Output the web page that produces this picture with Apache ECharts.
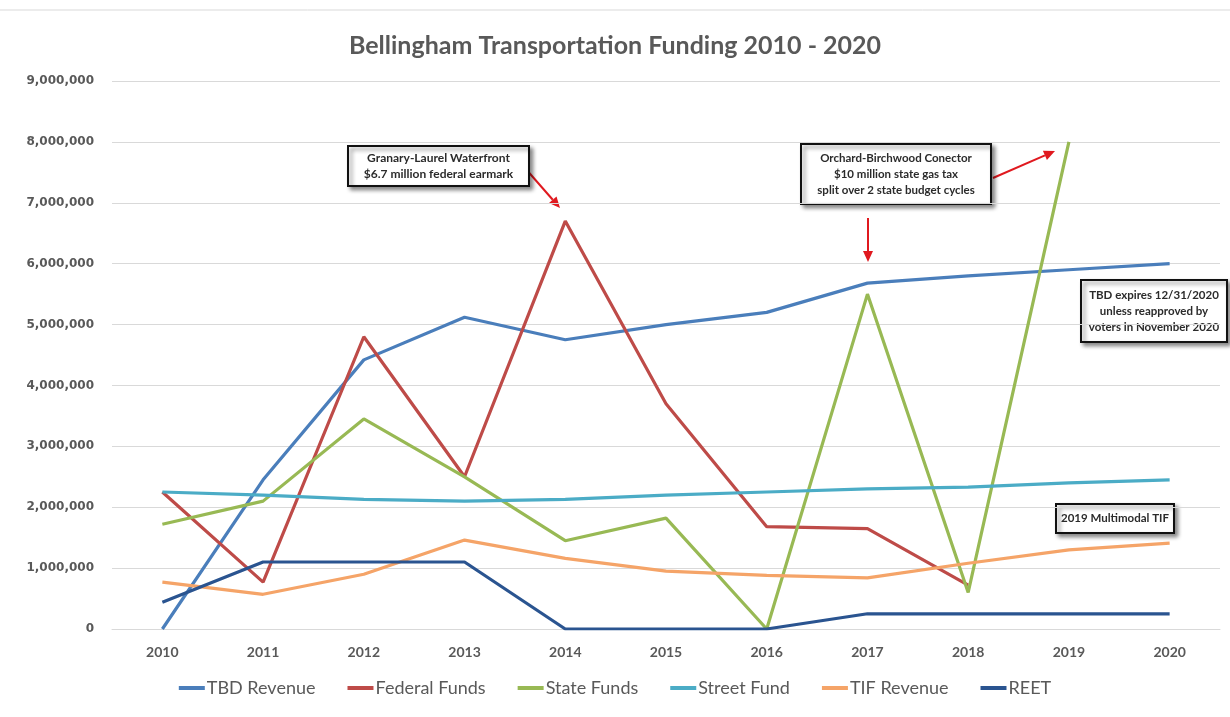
<!DOCTYPE html>
<html>
<head>
<meta charset="utf-8">
<script src="https://cdn.jsdelivr.net/npm/echarts@6/dist/echarts.min.js"></script>
<style>html,body{margin:0;padding:0;background:#fff;}#c{width:1230px;height:717px;}</style>
</head>
<body>
<div id="c"></div>
<script>
const years = ['2010','2011','2012','2013','2014','2015','2016','2017','2018','2019','2020'];
const tbdRevenue   = [0, 2450000, 4420000, 5120000, 4750000, 5000000, 5200000, 5680000, 5800000, 5900000, 6000000];
const federalFunds = [2250000, 770000, 4800000, 2500000, 6700000, 3700000, 1680000, 1650000, 720000, null, null];
const stateFunds   = [1720000, 2100000, 3450000, 2500000, 1450000, 1820000, 0, 5500000, 600000, 8000000, null];
const streetFund   = [2250000, 2200000, 2130000, 2100000, 2130000, 2200000, 2250000, 2300000, 2330000, 2400000, 2450000];
const tifRevenue   = [770000, 570000, 900000, 1460000, 1160000, 950000, 880000, 840000, 1080000, 1300000, 1410000];
const reet         = [440000, 1100000, 1100000, 1100000, 0, 0, 0, 250000, 250000, 250000, 250000];
const yTicks = [0, 1000000, 9000000];

const chart = echarts.init(document.getElementById('c'));
const font = 'Lato, "Open Sans", sans-serif';
function mk(name, data, color) {
  return { name, type: 'line', data, symbol: 'none', smooth: false,
    lineStyle: { width: 3.2, color }, itemStyle: { color }, connectNulls: false };
}
function box(left, top, w, h, text, fs) {
  return { type: 'group', left, top, children: [
    { type: 'rect', shape: { x: 0, y: 0, width: w, height: h },
      style: { fill: '#fff', stroke: '#111', lineWidth: 2, shadowBlur: 4, shadowOffsetX: 3, shadowOffsetY: 3, shadowColor: 'rgba(0,0,0,0.45)' } },
    { type: 'text', x: w / 2, y: h / 2,
      style: { text, fill: '#2b2b2b', font: 'bold ' + (fs || 12) + 'px ' + font, align: 'center', verticalAlign: 'middle', lineHeight: 16 } }
  ]};
}
function arrow(x1, y1, x2, y2) {
  const a = Math.atan2(y2 - y1, x2 - x1), L = 11, W = 5;
  const bx = x2 - L * Math.cos(a), by = y2 - L * Math.sin(a);
  const px = -Math.sin(a) * W, py = Math.cos(a) * W;
  return [
    { type: 'line', shape: { x1, y1, x2: bx, y2: by }, style: { stroke: '#e0191f', lineWidth: 2 } },
    { type: 'polygon', shape: { points: [[x2, y2], [bx + px, by + py], [bx - px, by - py]] }, style: { fill: '#e0191f' } }
  ];
}
chart.setOption({
  animation: false,
  backgroundColor: '#fff',
  title: { text: 'Bellingham Transportation Funding 2010 - 2020', left: 'center', top: 28,
    textStyle: { fontFamily: font, fontSize: 25, fontWeight: 'bold', color: '#595959' } },
  grid: { left: 112, right: 10, top: 81, bottom: 88 },
  legend: { bottom: 15, left: 'center', itemWidth: 26, itemHeight: 4, itemGap: 32,
    icon: 'rect',
    textStyle: { fontFamily: font, fontSize: 18, color: '#595959', padding: [0, 0, 0, -3] } },
  xAxis: { type: 'category', data: years, boundaryGap: true,
    axisLine: { show: true, lineStyle: { color: '#d9d9d9', width: 1 } }, axisTick: { show: false },
    axisLabel: { fontFamily: font, fontWeight: 'bold', fontSize: 14, color: '#595959', margin: 16 } },
  yAxis: { type: 'value', min: yTicks[0], max: yTicks[2], interval: yTicks[1],
    axisLine: { show: false }, axisTick: { show: false },
    splitLine: { lineStyle: { color: '#d9d9d9', width: 1.2 } },
    axisLabel: { fontFamily: 'Verdana, "DejaVu Sans", sans-serif', fontWeight: 'bold', fontSize: 12, color: '#595959', margin: 18,
      formatter: v => v.toLocaleString('en-US') } },
  series: [
    mk('TBD Revenue', tbdRevenue, '#4a7ebb'),
    mk('Federal Funds', federalFunds, '#be4b48'),
    mk('State Funds', stateFunds, '#98b954'),
    mk('Street Fund', streetFund, '#4bacc6'),
    mk('TIF Revenue', tifRevenue, '#f5a468'),
    mk('REET', reet, '#2a5490')
  ],
  graphic: [
    { type: 'line', shape: { x1: 0, y1: 10, x2: 1230, y2: 10 }, style: { stroke: '#d9d9d9', lineWidth: 1 } },
    ...arrow(525, 168, 560, 208),
    ...arrow(993, 178, 1055, 151),
    ...arrow(868, 218, 868, 262),
    box(347, 145, 181, 40, 'Granary-Laurel Waterfront\n$6.7 million federal earmark', 12),
    box(800, 143, 190, 60, 'Orchard-Birchwood Conector\n$10 million state gas tax\nsplit over 2 state budget cycles', 11.5),
    box(1080, 279, 146, 62, 'TBD expires 12/31/2020\nunless reapproved by\nvoters in November 2020', 11.5),
    box(1055, 503, 118, 29, '2019 Multimodal TIF', 11.5)
  ]
});
</script>
</body>
</html>
